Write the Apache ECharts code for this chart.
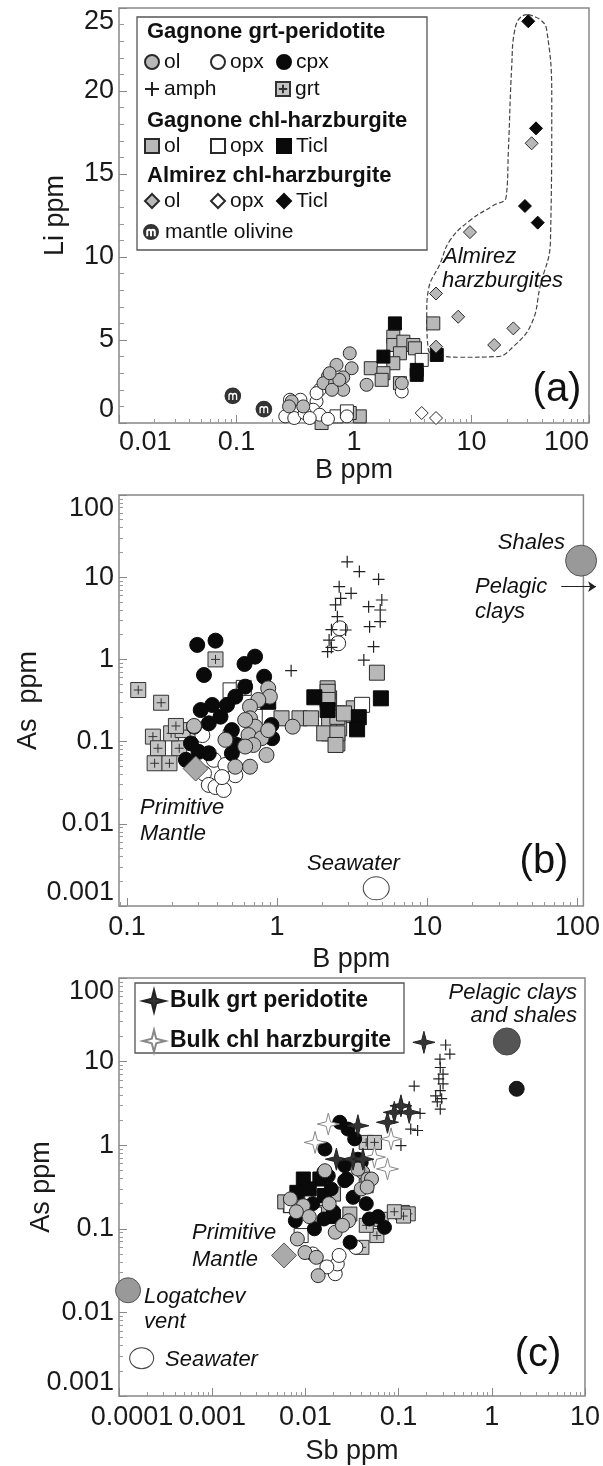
<!DOCTYPE html>
<html><head><meta charset="utf-8">
<script src="https://cdn.jsdelivr.net/npm/echarts@6/dist/echarts.min.js"></script>
<style>html,body{margin:0;padding:0;background:#fff}#c{width:603px;height:1466px}</style>
</head><body><div id="c"></div><script>
// ---------------- DATA ----------------
// Panel (a): Li vs B
const a_grtOl  = [[0.92,4.2],[0.71,3.5],[0.955,3.3],[0.60,2.8],[0.81,2.75],[0.55,2.4],[0.69,2.4],[0.81,2.0],[0.65,2.0],[0.295,1.3],[0.37,1.0],[0.28,1.0],[1.28,2.3],[2.55,2.4],[0.75,2.6],[0.62,3.0]];
const a_grtOpx = [[0.51,2.0],[0.48,1.3],[0.45,0.8],[0.35,1.4],[0.26,0.4],[0.31,0.3],[0.38,0.6],[0.51,0.5],[0.87,0.4],[0.285,1.4],[0.48,1.8],[2.55,1.9],[0.42,0.3],[0.6,0.25]];
const a_chlOl  = [[2.16,5.2],[2.16,4.7],[2.63,4.9],[3.2,4.7],[3.3,4.5],[2.46,4.2],[2.16,3.6],[1.39,3.3],[1.78,3.0],[1.72,2.6],[2.46,2.4],[4.73,6.0],[1.12,0.4],[0.92,0.6],[0.53,0.0]];
const a_chlOpx = [[3.77,3.8],[0.71,0.4],[0.87,0.7]];
const a_chlTicl= [[2.23,6.0],[1.78,4.0],[3.42,3.2],[3.42,2.9],[5.06,4.1]];
const a_almOl  = [[4.99,7.8],[7.7,6.4],[22.7,5.7],[15.6,4.7],[4.99,4.6],[9.7,11.5],[32.5,16.85]];
const a_almOpx = [[3.77,0.6],[4.99,0.3]];
const a_almTicl= [[30.4,24.2],[35.4,17.75],[28.5,13.07],[36.6,12.07]];
const a_mantle = [[0.093,1.64],[0.171,0.84]];
const a_almOutline = [[30.4,24.6],[38.3,24.3],[43.6,23.7],[48.2,19.5],[47,11.0],[38.3,8.2],[32.5,6.0],[22.7,4.6],[16.4,4.0],[8.0,3.96],[5.2,4.1],[4.29,4.4],[4.16,6.6],[4.29,8.0],[5.4,9.6],[6.56,11.0],[9.7,12.2],[15.3,13.1],[19.7,13.6],[20.6,16.4],[22.0,21.5],[23.4,23.7],[26.7,24.5],[30.4,24.6]];

// Panel (b): As vs B
const b_grtCpx = [[0.294,1.50],[0.389,1.69],[0.326,0.646],[0.607,0.88],[0.713,1.08],[0.82,0.616],[0.613,0.466],[0.527,0.352],[0.464,0.279],[0.37,0.279],[0.31,0.242],[0.42,0.201],[0.351,0.167],[0.28,0.152],[0.267,0.095],[0.30,0.075],[0.351,0.072],[0.50,0.072],[0.54,0.091],[0.917,0.159],[0.927,0.11],[0.50,0.138],[0.247,0.06]];
const b_grtOl  = [[0.873,0.445],[0.895,0.352],[0.75,0.321],[0.66,0.266],[0.66,0.192],[0.713,0.152],[0.645,0.12],[0.788,0.11],[0.695,0.091],[0.85,0.0687],[0.66,0.0495],[0.527,0.0495],[1.27,0.152],[0.28,0.155],[0.613,0.087],[0.613,0.183],[0.873,0.138],[0.453,0.105]];
const b_grtOpx = [[0.318,0.12],[0.489,0.128],[0.379,0.06],[0.453,0.052],[0.326,0.041],[0.351,0.0297],[0.389,0.028],[0.441,0.0258],[0.527,0.039],[0.43,0.037],[2.62,2.39],[2.55,1.57]];
const b_amph   = [[1.24,0.73],[2.93,15.4],[3.53,11.7],[4.74,9.43],[2.59,7.66],[3.11,6.37],[2.65,5.54],[4.98,5.28],[4.07,4.38],[4.86,3.99],[4.86,2.88],[4.13,2.5],[2.52,3.31],[2.86,2.28],[4.39,1.43],[3.78,0.98],[2.22,1.72],[2.17,1.24],[2.3,2.3],[2.45,4.6],[2.3,1.4]];
const b_grt    = [[0.119,0.424],[0.169,0.297],[0.389,1.0],[0.149,0.115],[0.161,0.083],[0.223,0.083],[0.197,0.126],[0.235,0.138],[0.153,0.0545],[0.192,0.0545],[0.212,0.155]];
const b_chlOl  = [[4.62,0.689],[2.17,0.445],[2.22,0.336],[2.52,0.221],[2.93,0.21],[3.24,0.254],[2.59,0.145],[2.52,0.095],[2.22,0.126],[2.22,0.167],[1.07,0.192],[1.41,0.192],[1.68,0.192],[2.17,0.404],[2.17,0.321],[2.52,0.2],[2.06,0.126],[2.52,0.126],[2.45,0.091],[2.79,0.22]];
const b_chlOpx = [[0.49,0.42],[0.71,0.2],[3.68,0.28],[0.6,0.45]];
const b_chlTicl= [[4.91,0.336],[3.5,0.198],[3.41,0.141],[2.17,0.242],[1.77,0.346],[0.873,0.305]];
const b_primitiveMantle = [[0.287,0.047]];
const b_seawater = [[4.57,0.00164]];
const b_shales   = [[105.7,15.9]];
const b_pelagicArrow = [[78,7.67],[133,7.67]];

// Panel (c): As vs Sb
const c_grtCpx = [[0.0234,1.88],[0.0286,1.56],[0.0338,1.19],[0.0162,0.9],[0.0264,0.57],[0.0397,0.62],[0.0176,0.43],[0.0264,0.376],[0.0325,0.238],[0.0189,0.3],[0.0078,0.125],[0.0125,0.1],[0.0302,0.069],[0.0486,0.131],[0.0706,0.104],[0.0158,0.131],[0.0366,0.68],[0.0278,0.394],[0.0158,0.477],[0.012,0.2],[0.02,0.16],[0.045,0.2],[0.06,0.14]];
const c_grtOl  = [[0.0162,0.495],[0.0413,0.474],[0.0468,0.394],[0.0397,0.3],[0.0095,0.189],[0.0069,0.228],[0.0099,0.052],[0.0137,0.0275],[0.0131,0.0456],[0.0082,0.0755],[0.0291,0.125],[0.0209,0.091],[0.0366,0.518],[0.0512,0.394],[0.046,0.316],[0.011,0.14],[0.018,0.2],[0.025,0.11],[0.008,0.16]];
const c_grtOpx = [[0.0209,0.029],[0.022,0.038],[0.023,0.048],[0.0348,0.06],[0.017,0.035],[0.012,0.05]];
const c_chlOl  = [[0.0069,0.189],[0.0149,0.157],[0.006,0.21],[0.02,0.26],[0.03,0.15]];
const c_chlOpx = [[0.0117,0.228],[0.009,0.083],[0.0125,0.15],[0.007,0.19]];
const c_chlTicl= [[0.0095,0.394],[0.0143,0.394],[0.0081,0.273],[0.011,0.3],[0.02,0.14],[0.016,0.25]];
const c_grt    = [[0.0449,1.08],[0.0552,1.08],[0.0449,0.327],[0.11,0.157],[0.127,0.151],[0.113,0.142],[0.0585,0.083],[0.0404,0.06],[0.065,0.13],[0.09,0.16],[0.045,0.11]];
const c_amph   = [[0.32,15.8],[0.355,12.3],[0.278,10.7],[0.28,8.5],[0.30,7.1],[0.27,6.2],[0.30,5.4],[0.28,4.5],[0.25,3.9],[0.29,3.6],[0.26,3.3],[0.28,2.7],[0.147,5.1],[0.17,2.4],[0.135,1.56],[0.16,1.5],[0.106,0.99]];
const c_bulkGrt= [[0.187,17.0],[0.106,2.96],[0.09,2.47],[0.076,1.88],[0.13,2.47],[0.0366,1.71],[0.0215,0.68],[0.0325,0.68],[0.0414,0.68]];
const c_bulkChl= [[0.0176,1.79],[0.0127,1.08],[0.076,0.52],[0.055,0.72],[0.083,1.19]];
const c_primitiveMantle = [[0.0059,0.048]];
const c_logatchev = [[0.000125,0.0184]];
const c_seawater  = [[0.000175,0.00283]];
const c_pelagicBig   = [[1.45,17.4]];
const c_pelagicSmall = [[1.85,4.73]];

// Axis tick values
const xTicksMinorA = [0.02,0.03,0.04,0.05,0.06,0.07,0.08,0.09,0.2,0.3,0.4,0.5,0.6,0.7,0.8,0.9,2,3,4,5,6,7,8,9,20,30,40,50,60,70,80,90];
const xTicksMinorB = [0.09,0.2,0.3,0.4,0.5,0.6,0.7,0.8,0.9,2,3,4,5,6,7,8,9,20,30,40,50,60,70,80,90];
const yTicksMinorBC = [0.002,0.003,0.004,0.005,0.006,0.007,0.008,0.009,0.02,0.03,0.04,0.05,0.06,0.07,0.08,0.09,0.2,0.3,0.4,0.5,0.6,0.7,0.8,0.9,2,3,4,5,6,7,8,9,20,30,40,50,60,70,80,90];
const xTicksMinorC = [0.0002,0.0003,0.0004,0.0005,0.0006,0.0007,0.0008,0.0009,0.002,0.003,0.004,0.005,0.006,0.007,0.008,0.009,0.02,0.03,0.04,0.05,0.06,0.07,0.08,0.09,0.2,0.3,0.4,0.5,0.6,0.7,0.8,0.9,2,3,4,5,6,7,8,9];

// ---------------- STYLE ----------------
const FONT = "'Liberation Sans', Arial, Helvetica, sans-serif";
const GRAY = '#b8b8b8', EDGE = '#2a2a2a', BLACK = '#0a0a0a';
const SYM_PLUS = 'path://M50,0L50,100M0,50L100,50';
const SYM_GRT  = 'path://M0,0L100,0L100,100L0,100ZM50,20L50,80M20,50L80,50';
const SYM_M    = 'path://M50,0A50,50,0,1,1,49.9,0ZM29,73L29,40M29,50C29,33,50,33,50,50L50,73M50,50C50,33,71,33,71,50L71,73';
const SYM_STAR = 'path://M50,0L60,40L100,50L60,60L50,100L40,60L0,50L40,40Z';

const N = {
  grtOl:'Gagnone grt-peridotite ol', grtOpx:'Gagnone grt-peridotite opx', grtCpx:'Gagnone grt-peridotite cpx',
  amph:'Gagnone grt-peridotite amph', grt:'Gagnone grt-peridotite grt',
  chlOl:'Gagnone chl-harzburgite ol', chlOpx:'Gagnone chl-harzburgite opx', chlTicl:'Gagnone chl-harzburgite Ticl',
  almOl:'Almirez chl-harzburgite ol', almOpx:'Almirez chl-harzburgite opx', almTicl:'Almirez chl-harzburgite Ticl',
  mantle:'mantle olivine', bulkGrt:'Bulk grt peridotite', bulkChl:'Bulk chl harzburgite'
};
const SHORT = {};
Object.keys(N).forEach(k => { const n = N[k]; SHORT[n] = n.startsWith('Gagnone') || n.startsWith('Almirez') ? n.split(' ').pop() : n; });

function sc(name, data, p, symbol, size, fill, stroke, z, bw) {
  return { type:'scatter', name, data, xAxisIndex:p, yAxisIndex:p, symbol, symbolSize:size, clip:false, z:z||2,
    itemStyle:{color:fill, borderColor:stroke, borderWidth:bw==null?1:bw, opacity:1}, emphasis:{disabled:true} };
}
function panelSeries(p, d, s) {
  const out = [];
  if (d.grt)    out.push(sc(N.grt, d.grt, p, SYM_GRT, s.s, '#c4c4c4', '#333', 2, 1));
  if (d.chlOl)  out.push(sc(N.chlOl, d.chlOl, p, 'rect', s.s, GRAY, EDGE, 3));
  if (d.chlOpx) out.push(sc(N.chlOpx, d.chlOpx, p, 'rect', s.s, '#fff', EDGE, 3));
  if (d.chlTicl)out.push(sc(N.chlTicl, d.chlTicl, p, 'rect', s.s, BLACK, BLACK, 3));
  if (d.grtOpx) out.push(sc(N.grtOpx, d.grtOpx, p, 'circle', s.c, '#fff', EDGE, 4));
  if (d.grtCpx) out.push(sc(N.grtCpx, d.grtCpx, p, 'circle', s.c, BLACK, BLACK, 4));
  if (d.grtOl)  out.push(sc(N.grtOl, d.grtOl, p, 'circle', s.c, GRAY, EDGE, 4));
  if (d.amph)   out.push(sc(N.amph, d.amph, p, SYM_PLUS, s.p, 'rgba(0,0,0,0)', '#222', 5, 1.2));
  if (d.almOl)  out.push(sc(N.almOl, d.almOl, p, 'diamond', s.d, GRAY, EDGE, 4));
  if (d.almOpx) out.push(sc(N.almOpx, d.almOpx, p, 'diamond', s.d, '#fff', EDGE, 4));
  if (d.almTicl)out.push(sc(N.almTicl, d.almTicl, p, 'diamond', s.d, BLACK, BLACK, 4));
  if (d.mantle) out.push(sc(N.mantle, d.mantle, p, SYM_M, s.m, '#333', '#fff', 4, 1.3));
  return out;
}

const series = [];
// (a)
series.push({ type:'line', name:'Almirez outline', data:a_almOutline, xAxisIndex:0, yAxisIndex:0, smooth:0.45, showSymbol:false, symbol:'none', clip:false, z:1,
  lineStyle:{type:'dashed', color:'#444', width:1.2}, emphasis:{disabled:true} });
series.push(...panelSeries(0, {chlOl:a_chlOl, chlOpx:a_chlOpx, chlTicl:a_chlTicl, grtOpx:a_grtOpx, grtOl:a_grtOl, almOl:a_almOl, almOpx:a_almOpx, almTicl:a_almTicl, mantle:a_mantle}, {c:13, s:13, d:13, p:11, m:18}));
// (b)
series.push(...panelSeries(1, {grt:b_grt, chlOl:b_chlOl, chlOpx:b_chlOpx, chlTicl:b_chlTicl, grtOpx:b_grtOpx, grtCpx:b_grtCpx, grtOl:b_grtOl, amph:b_amph}, {c:15, s:15, d:14, p:12}));
series.push(sc('Primitive Mantle (b)', b_primitiveMantle, 1, 'diamond', 25, '#aaa', '#555', 6));
series.push(sc('Seawater (b)', b_seawater, 1, 'circle', [26,23], '#fff', '#444', 6));
series.push(sc('Shales', b_shales, 1, 'circle', 31, '#999', '#555', 6));
series.push({ type:'lines', name:'Pelagic clays arrow', coordinateSystem:'cartesian2d', xAxisIndex:1, yAxisIndex:1, clip:false, z:6,
  data:[{coords:b_pelagicArrow}], symbol:['none','arrow'], symbolSize:8, lineStyle:{color:'#222', width:1, opacity:1}, emphasis:{disabled:true} });
// (c)
series.push(...panelSeries(2, {grt:c_grt, chlOl:c_chlOl, chlOpx:c_chlOpx, chlTicl:c_chlTicl, grtOpx:c_grtOpx, grtOl:c_grtOl, grtCpx:c_grtCpx, amph:c_amph}, {c:14, s:14, d:14, p:11}));
series.push(sc(N.bulkChl, c_bulkChl, 2, SYM_STAR, 22, '#fff', '#888', 7));
series.push(sc(N.bulkGrt, c_bulkGrt, 2, SYM_STAR, 22, '#333', '#222', 7));
series.push(sc('Primitive Mantle (c)', c_primitiveMantle, 2, 'diamond', 25, '#aaa', '#555', 6));
series.push(sc('Logatchev vent', c_logatchev, 2, 'circle', 25, '#999', '#555', 6));
series.push(sc('Seawater (c)', c_seawater, 2, 'circle', [24,21], '#fff', '#444', 6));
series.push(sc('Pelagic clays and shales', c_pelagicBig, 2, 'circle', 27, '#555', '#444', 6));
series.push(sc('Pelagic clays and shales 2', c_pelagicSmall, 2, 'circle', 15, '#1a1a1a', '#111', 6));

// ---------------- AXES ----------------
const TICK = {inside:true, length:8, lineStyle:{color:'#888', width:1}};
const LABEL = {fontSize:27, color:'#1a1a1a', fontFamily:FONT};
const NAME = {fontSize:27, color:'#1a1a1a', fontFamily:FONT};
function logX(grid, min, max, name, gap, extra) {
  return Object.assign({ type:'log', gridIndex:grid, min, max, position:'bottom', name, nameLocation:'middle', nameGap:gap, nameTextStyle:NAME,
    axisLine:{show:false}, splitLine:{show:false}, axisTick:TICK, axisLabel:Object.assign({margin:6}, LABEL) }, extra||{});
}
function logY(grid, min, max, name, gap) {
  return { type:'log', gridIndex:grid, min, max, position:'left', name, nameLocation:'middle', nameGap:gap, nameMoveOverlap:false, nameTextStyle:NAME,
    axisLine:{show:false}, splitLine:{show:false}, axisTick:TICK,
    axisLabel:Object.assign({margin:5, verticalAlignMaxLabel:'top', verticalAlignMinLabel:'bottom'}, LABEL) };
}
function minorAx(grid, min, max, pos, vals, type) {
  return { type:type||'log', gridIndex:grid, min, max, position:pos, axisLine:{show:false}, splitLine:{show:false}, axisLabel:{show:false},
    axisTick:{inside:true, length:4, customValues:vals, lineStyle:{color:'#999', width:1}}, silent:true };
}
const xAxis = [
  logX(0, 0.01, 100, 'B ppm', 30, {axisLabel:Object.assign({margin:6, alignMinLabel:'left', alignMaxLabel:'right'}, LABEL)}),
  logX(1, 0.0886, 109.5, 'B ppm', 40, {axisLabel:Object.assign({margin:8, showMinLabel:false, showMaxLabel:false}, LABEL)}),
  logX(2, 0.0001, 10, 'Sb ppm', 42, {axisLabel:Object.assign({margin:8, showMinLabel:true, hideOverlap:false,
    formatter: v => v < 0.00011 ? '{s|0.0001}' : String(v),
    rich:{s:{fontSize:27, color:'#1a1a1a', fontFamily:FONT, padding:[0,0,0,26]}}}, LABEL)}),
  minorAx(0, 0.01, 100, 'bottom', xTicksMinorA),
  minorAx(1, 0.0886, 109.5, 'bottom', xTicksMinorB),
  minorAx(2, 0.0001, 10, 'bottom', xTicksMinorC)
];
const yAxis = [
  { type:'value', gridIndex:0, min:0, max:25, interval:5, position:'left', name:'Li ppm', nameLocation:'middle', nameGap:50, nameMoveOverlap:false, nameTextStyle:NAME,
    axisLine:{show:false}, splitLine:{show:false}, axisTick:TICK, minorTick:{show:true, splitNumber:5, length:5, lineStyle:{color:'#999'}},
    axisLabel:Object.assign({margin:5, verticalAlignMaxLabel:'top', verticalAlignMinLabel:'bottom'}, LABEL) },
  logY(1, 0.001, 100, 'As  ppm', 77),
  logY(2, 0.001, 100, 'As ppm', 64),
  minorAx(1, 0.001, 100, 'left', yTicksMinorBC),
  minorAx(2, 0.001, 100, 'left', yTicksMinorBC)
];
const GRID = {show:true, borderColor:'#888', borderWidth:1.5, backgroundColor:'transparent'};
const grid = [
  Object.assign({left:119, top:8, width:470, height:415}, GRID),
  Object.assign({left:119, top:495, width:470, height:411}, GRID),
  Object.assign({left:119, top:978, width:470, height:420}, GRID)
];

// ---------------- LEGENDS ----------------
const LT = {fontSize:21, color:'#111', fontFamily:FONT, width:41, lineHeight:22};
function row(top, names, extra) {
  return Object.assign({ left:144, top, orient:'horizontal', padding:0, itemGap:5, itemWidth:14, itemHeight:14, selectedMode:false,
    formatter: n => SHORT[n], textStyle:LT, data:names }, extra||{});
}
const legend = [
  row(51, [N.grtOl, N.grtOpx, N.grtCpx]),
  row(78, [{name:N.amph, textStyle:{width:106}}, N.grt]),
  row(135, [N.chlOl, N.chlOpx, N.chlTicl]),
  row(190, [N.almOl, N.almOpx, N.almTicl]),
  row(221, [N.mantle], {left:141, itemWidth:18, itemHeight:18, textStyle:Object.assign({}, LT, {width:160})}),
  { left:142, top:989, orient:'vertical', padding:0, itemGap:16, itemWidth:22, itemHeight:22, selectedMode:false,
    textStyle:{fontSize:23, fontWeight:'bold', color:'#111', fontFamily:FONT, lineHeight:22}, data:[N.bulkGrt, N.bulkChl] }
];

// ---------------- ANNOTATIONS ----------------
function txt(x, y, text, o) {
  o = o || {};
  return { type:'text', x, y, z:50, silent:true, style:{ text, fill:'#111', fontFamily:FONT, fontSize:o.size||22, fontStyle:o.italic?'italic':'normal',
    fontWeight:o.bold?'bold':'normal', align:o.align||'left', verticalAlign:'middle' } };
}
const graphic = [
  { type:'rect', shape:{x:137, y:17, width:290, height:233}, style:{fill:'#fff', stroke:'#555', lineWidth:1.3}, z:0, silent:true },
  txt(147, 32, 'Gagnone grt-peridotite', {bold:true, size:22}),
  txt(147, 121, 'Gagnone chl-harzburgite', {bold:true, size:22}),
  txt(147, 176, 'Almirez chl-harzburgite', {bold:true, size:22}),
  txt(443, 257, 'Almirez', {italic:true}),
  txt(442, 281, 'harzburgites', {italic:true}),
  txt(557, 390, '(a)', {size:40, align:'center'}),
  txt(140, 808, 'Primitive', {italic:true}),
  txt(140, 834, 'Mantle', {italic:true}),
  txt(307, 864, 'Seawater', {italic:true}),
  txt(565, 543, 'Shales', {italic:true, align:'right'}),
  txt(475, 587, 'Pelagic', {italic:true}),
  txt(475, 612, 'clays', {italic:true}),
  txt(544, 862, '(b)', {size:40, align:'center'}),
  { type:'rect', shape:{x:135, y:983, width:269, height:70}, style:{fill:'#fff', stroke:'#555', lineWidth:1.3}, z:0, silent:true },
  txt(577, 993, 'Pelagic clays', {italic:true, align:'right'}),
  txt(577, 1016, 'and shales', {italic:true, align:'right'}),
  txt(192, 1233, 'Primitive', {italic:true}),
  txt(192, 1260, 'Mantle', {italic:true}),
  txt(144, 1297, 'Logatchev', {italic:true}),
  txt(144, 1322, 'vent', {italic:true}),
  txt(165, 1360, 'Seawater', {italic:true}),
  txt(538, 1355, '(c)', {size:40, align:'center'})
];

const chart = echarts.init(document.getElementById('c'), null, {renderer:'canvas'});
chart.setOption({ animation:false, backgroundColor:'#fff', grid, xAxis, yAxis, legend, series, graphic });
</script></body></html>
